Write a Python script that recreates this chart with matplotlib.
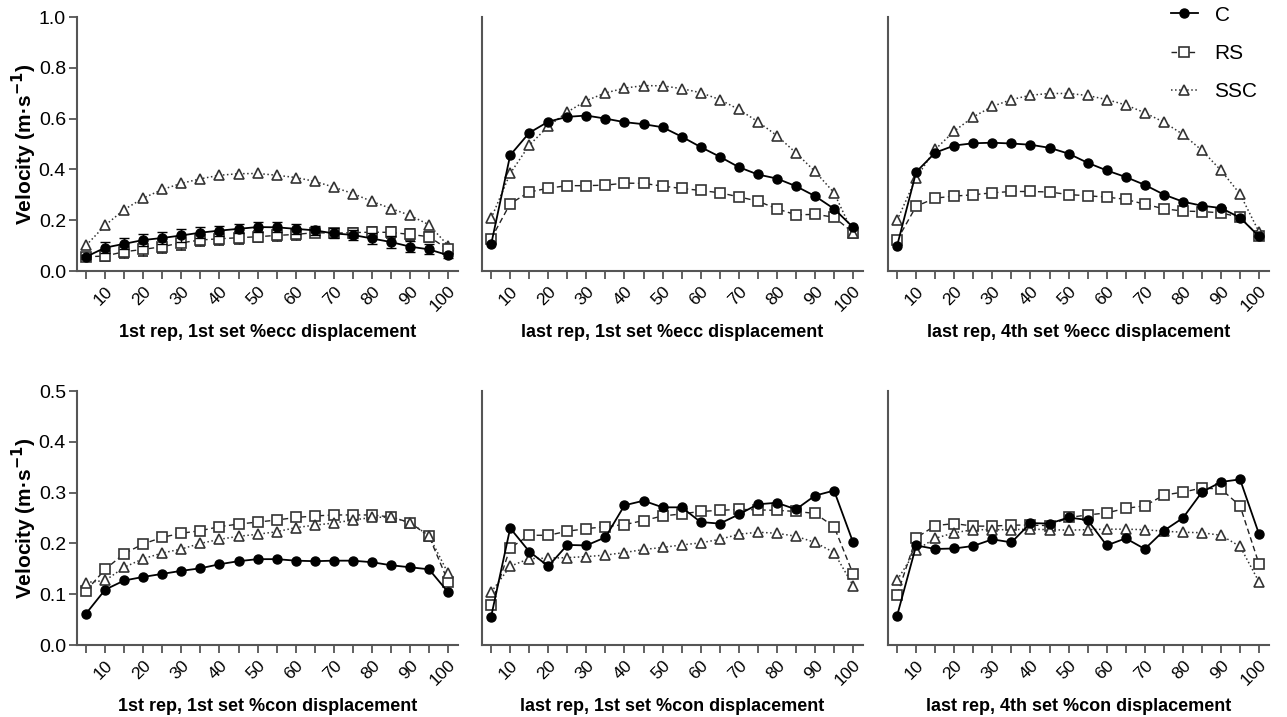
import matplotlib
matplotlib.use("Agg")
import matplotlib.pyplot as plt

plt.rcParams['font.family'] = ['Liberation Sans', 'DejaVu Sans']

# % displacement (every 5 %)
x = [5, 10, 15, 20, 25, 30, 35, 40, 45, 50, 55, 60, 65, 70, 75, 80, 85, 90, 95, 100]
xticks_lab = [10, 20, 30, 40, 50, 60, 70, 80, 90, 100]

# eccentric, 1st rep 1st set
ecc1_C = [0.056, 0.092, 0.107, 0.122, 0.130, 0.140, 0.151, 0.159, 0.166, 0.173,
          0.172, 0.166, 0.160, 0.148, 0.142, 0.128, 0.114, 0.096, 0.085, 0.062]
ecc1_RS = [0.056, 0.059, 0.076, 0.085, 0.096, 0.111, 0.122, 0.127, 0.131, 0.135,
           0.140, 0.144, 0.151, 0.149, 0.151, 0.153, 0.152, 0.144, 0.135, 0.085]
ecc1_SSC = [0.101, 0.180, 0.242, 0.287, 0.321, 0.345, 0.363, 0.377, 0.383, 0.384,
            0.377, 0.368, 0.353, 0.330, 0.305, 0.274, 0.246, 0.219, 0.182, 0.100]
ecc1_C_err = [0.008, 0.021, 0.022, 0.024, 0.025, 0.025, 0.022, 0.020, 0.018, 0.018,
              0.020, 0.020, 0.018, 0.020, 0.020, 0.022, 0.022, 0.022, 0.020, 0.010]
ecc1_RS_err = [0.008, 0.020, 0.024, 0.026, 0.027, 0.027, 0.025, 0.024, 0.024, 0.022,
               0.020, 0.020, 0.018, 0.018, 0.020, 0.022, 0.022, 0.022, 0.020, 0.012]

# eccentric, last rep 1st set
ecc2_C = [0.105, 0.456, 0.544, 0.588, 0.607, 0.612, 0.600, 0.586, 0.578, 0.566,
          0.529, 0.488, 0.450, 0.409, 0.380, 0.364, 0.334, 0.295, 0.245, 0.172]
ecc2_RS = [0.127, 0.265, 0.311, 0.326, 0.336, 0.336, 0.338, 0.346, 0.345, 0.334,
           0.325, 0.317, 0.308, 0.292, 0.275, 0.245, 0.221, 0.223, 0.212, 0.151]
ecc2_SSC = [0.207, 0.384, 0.495, 0.570, 0.626, 0.671, 0.701, 0.720, 0.730, 0.729,
            0.718, 0.702, 0.675, 0.636, 0.588, 0.533, 0.465, 0.392, 0.308, 0.148]

# eccentric, last rep 4th set
ecc3_C = [0.100, 0.390, 0.466, 0.494, 0.503, 0.505, 0.502, 0.497, 0.485, 0.462,
          0.426, 0.396, 0.370, 0.339, 0.301, 0.273, 0.257, 0.248, 0.210, 0.136]
ecc3_RS = [0.122, 0.255, 0.287, 0.295, 0.300, 0.308, 0.313, 0.313, 0.311, 0.301,
           0.296, 0.291, 0.282, 0.263, 0.245, 0.236, 0.234, 0.229, 0.211, 0.136]
ecc3_SSC = [0.200, 0.367, 0.479, 0.551, 0.607, 0.648, 0.675, 0.692, 0.699, 0.699,
            0.691, 0.675, 0.654, 0.623, 0.586, 0.538, 0.475, 0.396, 0.303, 0.153]

# concentric, 1st rep 1st set
con1_C = [0.062, 0.109, 0.127, 0.134, 0.140, 0.146, 0.151, 0.159, 0.165, 0.169,
          0.169, 0.166, 0.165, 0.166, 0.166, 0.163, 0.157, 0.153, 0.149, 0.104]
con1_RS = [0.107, 0.149, 0.180, 0.199, 0.212, 0.220, 0.225, 0.233, 0.238, 0.242,
           0.246, 0.251, 0.254, 0.256, 0.256, 0.256, 0.252, 0.241, 0.214, 0.125]
con1_SSC = [0.123, 0.127, 0.153, 0.170, 0.181, 0.189, 0.200, 0.208, 0.214, 0.218,
            0.223, 0.231, 0.236, 0.240, 0.246, 0.251, 0.252, 0.241, 0.215, 0.141]

# concentric, last rep 1st set
con2_C = [0.056, 0.230, 0.184, 0.155, 0.197, 0.196, 0.212, 0.275, 0.284, 0.271,
          0.271, 0.242, 0.239, 0.257, 0.277, 0.280, 0.267, 0.294, 0.304, 0.202]
con2_RS = [0.079, 0.191, 0.216, 0.216, 0.224, 0.229, 0.233, 0.237, 0.245, 0.254,
           0.258, 0.263, 0.265, 0.267, 0.266, 0.265, 0.263, 0.259, 0.233, 0.140]
con2_SSC = [0.104, 0.155, 0.170, 0.171, 0.172, 0.174, 0.177, 0.182, 0.188, 0.192,
            0.197, 0.201, 0.208, 0.218, 0.222, 0.220, 0.214, 0.202, 0.182, 0.117]

# concentric, last rep 4th set
con3_C = [0.058, 0.196, 0.189, 0.190, 0.195, 0.208, 0.202, 0.240, 0.239, 0.251,
          0.246, 0.196, 0.210, 0.189, 0.225, 0.250, 0.301, 0.321, 0.326, 0.218]
con3_RS = [0.099, 0.211, 0.235, 0.239, 0.234, 0.234, 0.236, 0.236, 0.235, 0.251,
           0.256, 0.260, 0.269, 0.274, 0.295, 0.301, 0.309, 0.307, 0.274, 0.159]
con3_SSC = [0.128, 0.187, 0.210, 0.221, 0.227, 0.227, 0.227, 0.228, 0.227, 0.226,
            0.227, 0.228, 0.228, 0.227, 0.224, 0.222, 0.221, 0.216, 0.194, 0.124]

xlabels = ["1st rep, 1st set %ecc displacement",
           "last rep, 1st set %ecc displacement",
           "last rep, 4th set %ecc displacement",
           "1st rep, 1st set %con displacement",
           "last rep, 1st set %con displacement",
           "last rep, 4th set %con displacement"]

panels = [(ecc1_C, ecc1_RS, ecc1_SSC), (ecc2_C, ecc2_RS, ecc2_SSC), (ecc3_C, ecc3_RS, ecc3_SSC),
          (con1_C, con1_RS, con1_SSC), (con2_C, con2_RS, con2_SSC), (con3_C, con3_RS, con3_SSC)]

W, H = 1287, 717
fig = plt.figure(figsize=(W / 100, H / 100), dpi=100)

lefts = [77, 482, 888]
width = 381
rows = [(17, 271), (391, 645)]

spine_col = '#555555'
axes = []
for i, (c, rs, ssc) in enumerate(panels):
    r, col = divmod(i, 3)
    top, bot = rows[r]
    ax = fig.add_axes([lefts[col] / W, 1 - bot / H, width / W, (bot - top) / H])
    axes.append(ax)

    if i == 0:
        ax.errorbar(x, rs, yerr=ecc1_RS_err, color='#222222', ls='--', lw=1.0, dashes=(4, 2.5),
                    marker='s', ms=6.5, mfc='white', mec='#333333', mew=1.2,
                    capsize=3.5, elinewidth=1.0, ecolor='#222222', zorder=2)
        ax.errorbar(x, c, yerr=ecc1_C_err, color='black', ls='-', lw=1.3,
                    marker='o', ms=6.5, mfc='black', mec='black',
                    capsize=3.5, elinewidth=1.0, ecolor='black', zorder=3)
    else:
        ax.plot(x, rs, color='#222222', ls='--', lw=1.0, dashes=(4, 2.5),
                marker='s', ms=6.5, mfc='white', mec='#333333', mew=1.2, zorder=2)
        ax.plot(x, c, color='black', ls='-', lw=1.3,
                marker='o', ms=6.5, mfc='black', mec='black', zorder=3)
    ax.plot(x, ssc, color='#333333', ls=':', lw=1.1,
            marker='^', ms=7, mfc='white', mec='#333333', mew=1.2, zorder=2)

    ax.set_xlim(2.6, 102.6)
    ax.set_ylim(0, 1.0 if r == 0 else 0.5)
    ax.set_xticks(x)
    ax.set_xticklabels([str(v) if v in xticks_lab else '' for v in x],
                       rotation=45, ha='right', rotation_mode='anchor', fontsize=12.5)
    ax.tick_params(axis='x', length=6, width=1.3, color=spine_col, pad=3)
    ax.set_xlabel(xlabels[i], fontsize=13, fontweight='bold', labelpad=7)

    for s in ['top', 'right']:
        ax.spines[s].set_visible(False)
    for s in ['left', 'bottom']:
        ax.spines[s].set_color(spine_col)
        ax.spines[s].set_linewidth(1.5)

    if col == 0:
        if r == 0:
            ax.set_yticks([0.0, 0.2, 0.4, 0.6, 0.8, 1.0])
        else:
            ax.set_yticks([0.0, 0.1, 0.2, 0.3, 0.4, 0.5])
        ax.set_yticklabels(['%.1f' % t for t in ax.get_yticks()], fontsize=14)
        ax.tick_params(axis='y', length=6, width=1.3, color=spine_col, pad=2)
        ax.set_ylabel('Velocity (m·s$^{\\mathbf{-1}}$)', fontsize=15, fontweight='bold', labelpad=0)
    else:
        ax.set_yticks([])

h = [axes[1].lines[1], axes[1].lines[0], axes[1].lines[2]]
fig.legend(h, ['C', 'RS', 'SSC'], loc='upper left', bbox_to_anchor=(1152 / W, 1 + 13 / H),
           frameon=False, fontsize=15, handlelength=1.3, labelspacing=0.93, handletextpad=0.8)

fig.savefig('out.png', dpi=100)
